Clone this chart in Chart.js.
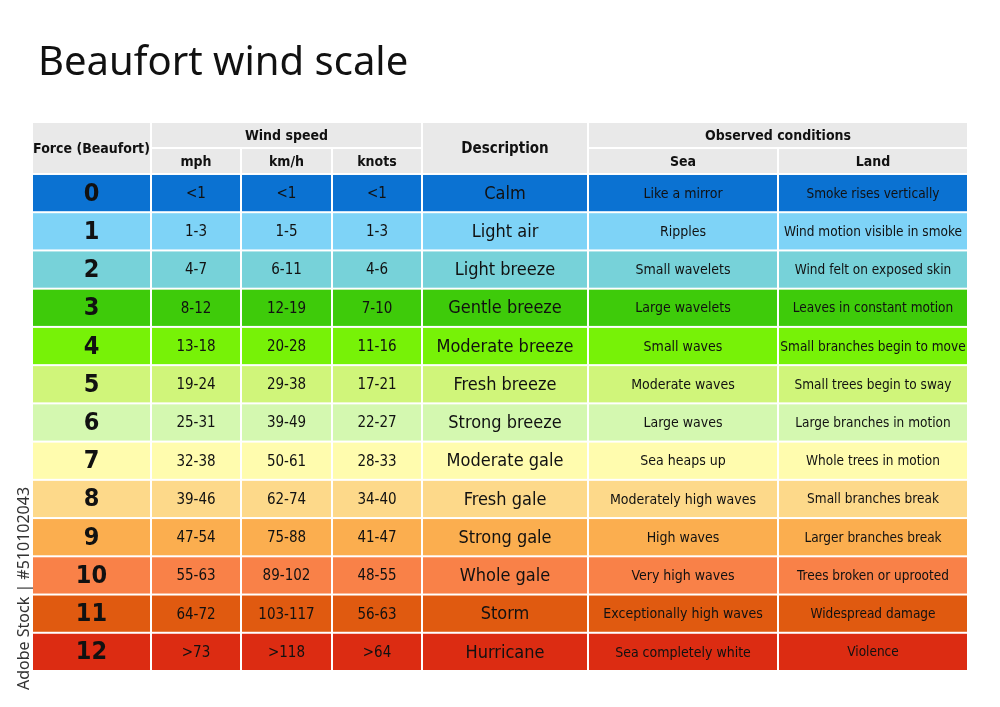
<!DOCTYPE html>
<html><head><meta charset="utf-8">
<script src="https://cdn.jsdelivr.net/npm/chart.js@4"></script>
<style>html,body{margin:0;background:#fff}#wrap{width:1000px;height:707px;position:relative}</style>
</head><body><div id="wrap"><canvas id="c"></canvas></div>
<script>
const forces = ["0","1","2","3","4","5","6","7","8","9","10","11","12"];
const mph = ["<1","1-3","4-7","8-12","13-18","19-24","25-31","32-38","39-46","47-54","55-63","64-72",">73"];
const kmh = ["<1","1-5","6-11","12-19","20-28","29-38","39-49","50-61","62-74","75-88","89-102","103-117",">118"];
const knots = ["<1","1-3","4-6","7-10","11-16","17-21","22-27","28-33","34-40","41-47","48-55","56-63",">64"];
const descriptions = ["Calm","Light air","Light breeze","Gentle breeze","Moderate breeze","Fresh breeze","Strong breeze","Moderate gale","Fresh gale","Strong gale","Whole gale","Storm","Hurricane"];
const sea = ["Like a mirror","Ripples","Small wavelets","Large wavelets","Small waves","Moderate waves","Large waves","Sea heaps up","Moderately high waves","High waves","Very high waves","Exceptionally high waves","Sea completely white"];
const land = ["Smoke rises vertically","Wind motion visible in smoke","Wind felt on exposed skin","Leaves in constant motion","Small branches begin to move","Small trees begin to sway","Large branches in motion","Whole trees in motion","Small branches break","Larger branches break","Trees broken or uprooted","Widespread damage","Violence"];
const rowColors = ["#0b72d2","#7ed3f7","#77d2d9","#3ecb0a","#77f207","#d0f57a","#d4f8b0","#fffcae","#fdd98a","#fbae4f","#f98148","#e05a10","#dc2c12"];

// layout (column edges in table units, header band, row height)
const colEdges = [0,119,209,300,390,556,746,936];
const headH = 52, rowH = 38.25;
const FONT = "'Liberation Sans Narrow','DejaVu Sans Condensed','Roboto Condensed',sans-serif";

const tablePlugin = {
  id: "table",
  afterDraw(chart) {
    const {ctx, scales: {x, y}} = chart;
    const rect = (c0, c1, r0, r1, color) => {
      const L = x.getPixelForValue(colEdges[c0]) + 1, R = x.getPixelForValue(colEdges[c1]) - 1;
      const T = y.getPixelForValue(r0) + 1, B = y.getPixelForValue(r1) - 1;
      ctx.fillStyle = color; ctx.fillRect(L, T, R - L, B - T);
      return [(L + R) / 2, (T + B) / 2];
    };
    const text = (p, s, size, bold, color) => {
      ctx.fillStyle = color || "#111";
      ctx.font = (bold ? "bold " : "") + size + "px " + FONT;
      ctx.textAlign = "center"; ctx.textBaseline = "middle";
      ctx.fillText(s, p[0], p[1] + 1);
    };
    const g = "#e9e9e9", half = headH / 2;
    ctx.save();
    ctx.fillStyle = "#111"; ctx.font = "40px 'Noto Sans',sans-serif";
    ctx.textAlign = "left"; ctx.textBaseline = "alphabetic";
    ctx.fillText("Beaufort wind scale", 38, 75);
    text(rect(0,1,0,headH,g), "Force (Beaufort)", 14, true);
    text(rect(1,4,0,half,g), "Wind speed", 14, true);
    text(rect(1,2,half,headH,g), "mph", 14, true);
    text(rect(2,3,half,headH,g), "km/h", 14, true);
    text(rect(3,4,half,headH,g), "knots", 14, true);
    text(rect(4,5,0,headH,g), "Description", 15, true);
    text(rect(5,7,0,half,g), "Observed conditions", 14, true);
    text(rect(5,6,half,headH,g), "Sea", 14, true);
    text(rect(6,7,half,headH,g), "Land", 14, true);
    forces.forEach((f, i) => {
      const r0 = headH + i * rowH, r1 = r0 + rowH, col = rowColors[i];
      const cells = [[f,25,true],[mph[i],15],[kmh[i],15],[knots[i],15],[descriptions[i],18],[sea[i],14],[land[i],13.5]];
      cells.forEach((c, j) => text(rect(j, j + 1, r0, r1, col), c[0], c[1], c[2]));
    });
    ctx.restore();
  }
};

new Chart(document.getElementById("c"), {
  type: "scatter",
  data: { datasets: [{ data: [] }] },
  options: {
    responsive: true, maintainAspectRatio: false, animation: false,
    layout: { padding: { left: 32, right: 32, top: 122, bottom: 36 } },
    plugins: { legend: { display: false }, tooltip: { enabled: false } },
    scales: {
      x: { type: "linear", min: 0, max: 936, display: false },
      y: { type: "linear", min: 0, max: headH + 13 * rowH, reverse: true, display: false }
    }
  },
  plugins: [tablePlugin, {
    id: "stamp",
    afterDraw(chart) {
      const ctx = chart.ctx; ctx.save();
      ctx.translate(24, 690); ctx.rotate(-Math.PI / 2);
      ctx.font = "16px 'Noto Sans',sans-serif"; ctx.fillStyle = "#333"; ctx.textBaseline = "middle";
      ctx.fillText("Adobe Stock | #510102043", 0, 0); ctx.restore();
    }
  }]
});
</script></body></html>
